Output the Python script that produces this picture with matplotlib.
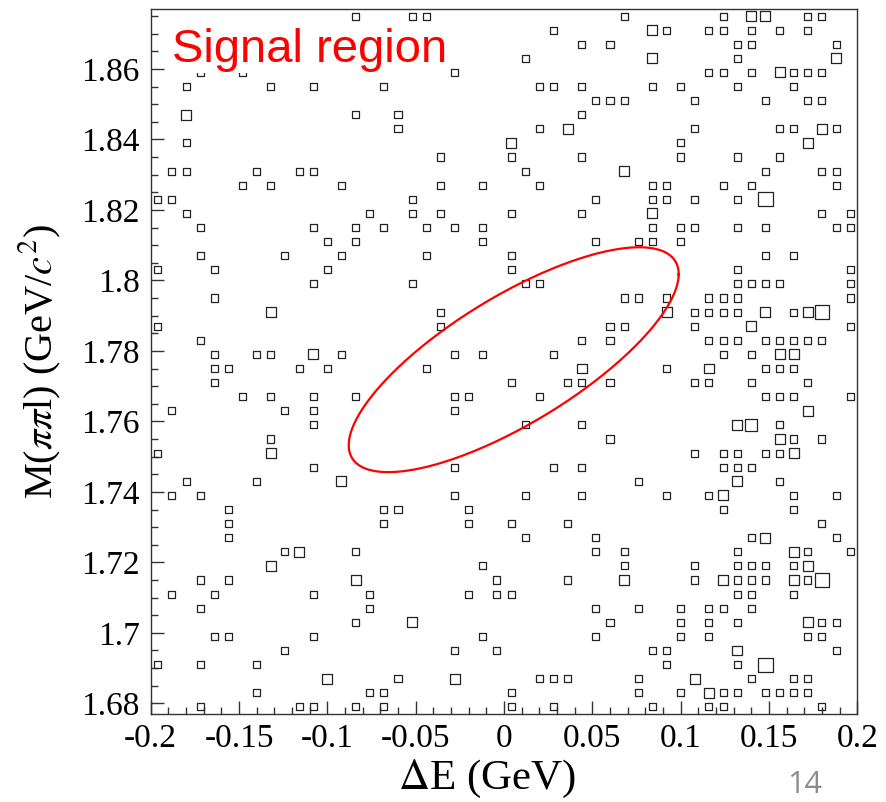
import numpy as np
import matplotlib.pyplot as plt
from matplotlib.patches import Rectangle
from matplotlib.collections import PatchCollection
from matplotlib.ticker import MultipleLocator

plt.rcParams['font.family'] = 'serif'
plt.rcParams['font.serif'] = ['Liberation Serif']
plt.rcParams['mathtext.fontset'] = 'stix'
plt.rcParams['axes.unicode_minus'] = False

# M(pi pi l) of each row of candidates, MeV/c^2
m_rows = [1875, 1871, 1867, 1863, 1859, 1855, 1851, 1847, 1843, 1839,
          1835, 1831, 1827, 1823, 1819, 1815, 1811, 1807, 1803, 1799,
          1795, 1791, 1787, 1783, 1779, 1775, 1771, 1767, 1763, 1759,
          1755, 1751, 1747, 1743, 1739, 1735, 1731, 1727, 1723, 1719,
          1715, 1711, 1707, 1703, 1699, 1695, 1691, 1687, 1683, 1679]

# Delta E of the candidates in each row, MeV
de_rows = [
    [-84, -52, -44, 68, 124, 140, 140, 148, 148, 172, 180],
    [28, 84, 84, 92, 116, 124, 140, 156, 172],
    [44, 60, 132, 140, 188],
    [12, 84, 84, 132, 188, 188],
    [-172, -148, -28, 116, 124, 140, 156, 156, 164, 172, 180],
    [-180, -132, -108, -68, 20, 28, 44, 84, 100, 132, 164],
    [52, 60, 68, 108, 148, 172, 180],
    [-180, -180, -84, -60, 44],
    [-60, 20, 36, 36, 108, 156, 164, 180, 180, 188],
    [-180, 4, 4, 100, 172, 172],
    [-36, 4, 44, 100, 132, 156],
    [-188, -180, -140, -116, -108, 12, 68, 68, 148, 180, 188],
    [-148, -132, -92, -36, -12, 20, 84, 92, 124, 140, 188],
    [-196, -188, -52, 52, 84, 92, 108, 132, 148, 148, 148, 148],
    [-180, -76, -52, -36, 4, 44, 84, 84, 180, 196],
    [-172, -108, -84, -68, -44, -28, -12, 84, 100, 108, 132, 148, 188, 196],
    [-100, -84, -12, 52, 76, 84, 100],
    [-172, -124, -92, -44, 4, 148, 164],
    [-196, -164, -100, 4, 132, 196],
    [-108, -52, 12, 20, 132, 140, 148, 156, 196],
    [-164, 68, 76, 92, 116, 124, 132, 196],
    [-132, -132, -36, 92, 92, 108, 116, 124, 132, 148, 148, 164, 172, 172,
     180, 180, 180, 180],
    [-196, -36, 60, 68, 108, 140, 140, 196],
    [-172, 44, 60, 116, 124, 132, 148, 156, 164, 172, 180],
    [-164, -140, -132, -108, -108, -92, -28, -12, 28, 124, 140, 156, 156,
     164, 164],
    [-164, -156, -116, -100, -44, 44, 44, 92, 116, 116, 148, 156, 164],
    [-164, 4, 36, 44, 60, 108, 116, 140, 172],
    [-148, -132, -108, -84, -28, -20, 20, 148, 156, 164, 196],
    [-188, -124, -108, -28, 172, 172],
    [-108, 12, 44, 132, 132, 140, 140, 140, 156],
    [-132, 60, 156, 156, 164, 180],
    [-196, -132, -132, 108, 124, 132, 148, 156, 164, 164],
    [-108, -28, 28, 44, 124, 132, 140],
    [-180, -140, -92, -92, 76, 132, 132, 156],
    [-188, -172, -28, 12, 44, 92, 116, 124, 124, 164, 188],
    [-156, -68, -60, -20, 124, 164],
    [-156, -68, -20, 4, 36, 180],
    [-156, 12, 52, 140, 148, 148, 188],
    [-124, -116, -116, -84, 52, 68, 132, 164, 164, 172, 196],
    [-132, -132, -12, 68, 108, 132, 140, 148, 164, 172, 172],
    [-172, -156, -84, -84, -4, 36, 68, 68, 108, 124, 124, 132, 140, 148,
     164, 164, 172, 180, 180, 180, 180],
    [-188, -164, -108, -76, -20, -4, 4, 132, 140, 164],
    [-172, -76, 52, 76, 100, 116, 124, 140],
    [-84, -52, -52, 60, 100, 116, 132, 172, 172, 180, 188],
    [-164, -156, -108, -12, 52, 100, 116, 172, 180],
    [-124, -28, -4, 84, 92, 132, 132, 188],
    [-196, -172, -140, 92, 132, 148, 148, 148, 148],
    [-100, -100, -60, -28, -28, 20, 28, 36, 76, 108, 108, 140, 164, 172],
    [-140, -76, -68, 4, 76, 100, 116, 116, 124, 132, 148, 156, 164, 172],
    [-172, -116, -108, -84, -68, 4, 28, 84, 116, 124, 180],
]

# signal region ellipse: centre, half widths and tilt phase
sig_de0, sig_m0 = 0.0055, 1.7775
sig_a, sig_b, sig_phi = 0.0934, 0.0319, 0.707

x_ticks = [-0.2, -0.15, -0.1, -0.05, 0, 0.05, 0.1, 0.15, 0.2]
x_labels = ['-0.2', '-0.15', '-0.1', '-0.05', '0', '0.05', '0.1', '0.15', '0.2']
y_ticks = [1.68, 1.70, 1.72, 1.74, 1.76, 1.78, 1.80, 1.82, 1.84, 1.86]
y_labels = ['1.68', '1.7', '1.72', '1.74', '1.76', '1.78', '1.8', '1.82', '1.84', '1.86']

de = np.concatenate([np.array(r, dtype=float) for r in de_rows]) / 1000.
m = np.concatenate([np.full(len(r), mr, dtype=float) for r, mr in zip(de_rows, m_rows)]) / 1000.

x_edges = np.linspace(-0.2, 0.2, 51)
y_edges = np.linspace(1.677, 1.877, 51)
h, _, _ = np.histogram2d(de, m, bins=[x_edges, y_edges])

fig = plt.figure(figsize=(8.86, 8.02), dpi=100)
ax = fig.add_axes([0.1701, 0.1098, 0.7975, 0.879])

# box drawing: box area proportional to the bin content
dx = x_edges[1] - x_edges[0]
dy = y_edges[1] - y_edges[0]
hmax = h.max()
boxes = []
for ix, iy in zip(*np.nonzero(h)):
    s = np.sqrt(h[ix, iy] / hmax)
    xc = 0.5 * (x_edges[ix] + x_edges[ix + 1])
    yc = 0.5 * (y_edges[iy] + y_edges[iy + 1])
    boxes.append(Rectangle((xc - 0.5 * s * dx, yc - 0.5 * s * dy), s * dx, s * dy))
ax.add_collection(PatchCollection(boxes, facecolor='none', edgecolor='#222222',
                                  linewidth=0.9, zorder=2))

t = np.linspace(0, 2 * np.pi, 400)
ax.plot(sig_de0 + sig_a * np.cos(t), sig_m0 + sig_b * np.cos(t - sig_phi),
        color='red', lw=1.6, zorder=3)

ax.set_xlim(-0.2, 0.2)
ax.set_ylim(1.677, 1.877)
ax.set_xticks(x_ticks)
ax.set_xticklabels(x_labels)
ax.set_yticks(y_ticks)
ax.set_yticklabels(y_labels)
ax.xaxis.set_minor_locator(MultipleLocator(0.01))
ax.yaxis.set_minor_locator(MultipleLocator(0.005))
ax.tick_params(which='both', direction='in', top=False, right=False,
               labelsize=24, color='#333333', width=1)
ax.tick_params(which='major', length=9.5)
ax.tick_params(which='minor', length=5)
ax.tick_params(axis='x', pad=7)
ax.tick_params(axis='y', pad=8)
for sp in ax.spines.values():
    sp.set_color('#333333')
    sp.set_linewidth(1.0)

fig.text(487 / 886, 1 - 779 / 802, r'$\Delta$E (GeV)', fontsize=31,
         ha='center', va='center')
fig.text(40 / 886, 1 - 362 / 802, r'M($\pi\pi$l) (GeV/$c^{2}$)', fontsize=29,
         ha='center', va='center', rotation=90)

fig.text(172 / 886, 1 - 62 / 802, 'Signal region', family='Liberation Sans',
         fontsize=34, color='red', ha='left', va='baseline',
         bbox=dict(facecolor='white', edgecolor='none', pad=1))
fig.text(805 / 886, 1 - 785 / 802, '14', family='Open Sans', fontsize=22,
         color='#8c8c8c', ha='center', va='center')

fig.savefig('out.png', dpi=100)
